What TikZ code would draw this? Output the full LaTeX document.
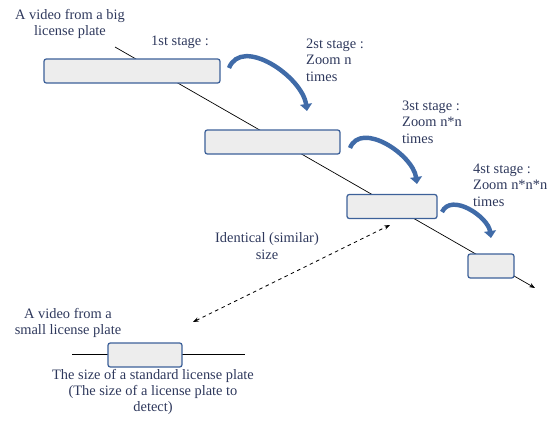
\documentclass[tikz,border=0pt]{standalone}
\usepackage{fontspec}
\setmainfont{Liberation Serif}
\usetikzlibrary{arrows.meta,calc}
\definecolor{PlateClr}{rgb}{0.24,0.38,0.6}
\definecolor{TxtClr}{rgb}{0.18,0.22,0.36}
\definecolor{ZoomClr}{rgb}{0.25,0.42,0.66}

\begin{document}
\begin{tikzpicture}[x=0.03cm,y=-0.03cm,
  plate/.style={draw=PlateClr,line width=1.1pt,fill=black!7,rounded corners=2pt,
    minimum height=0.72cm,inner sep=0pt},
  lbl/.style={text=TxtClr,font=\fontsize{12.3}{13.8}\selectfont,inner sep=0pt},
  zoomarrow/.style={draw=ZoomClr,line width=3.8pt,
    -{Triangle[width=10pt,length=6pt]}}]
\useasboundingbox (0,0) rectangle (550,421);

% main line of the stages
\coordinate (lineStart) at (115,47);
\coordinate (lineEnd) at (535,288);
\draw[line width=0.6pt,-{Stealth[length=5pt]}] (lineStart) -- (lineEnd);

\node[plate,minimum width=5.28cm] (P1) at (132,71) {};
\node[plate,minimum width=4.05cm] (P2) at (272.5,142) {};
\node[plate,minimum width=2.7cm] (P3) at (392,206.5) {};
\node[plate,minimum width=1.38cm] (P4) at (491,266) {};

% zoom arrows
\coordinate (A1) at (229,68);  \coordinate (B1) at (307,111);
\coordinate (A2) at (350,148); \coordinate (B2) at (417,184);
\coordinate (A3) at (442,212); \coordinate (B3) at (491,238);
\draw[zoomarrow] (A1) to[out=68,in=98] (B1);
\draw[zoomarrow] (A2) to[out=68,in=98] (B2);
\draw[zoomarrow] (A3) to[out=65,in=98] (B3);

\node[lbl,align=center] (big) at (70,24) {A video from a big\\license plate};
\node[lbl,anchor=west] (S1) at (151,42) {1st stage :};
\node[lbl,align=left,anchor=north west] (S2) at (306,39) {2st stage :\\Zoom n\\times};
\node[lbl,align=left,anchor=north west] (S3) at (402,101) {3st stage :\\Zoom n*n\\times};
\node[lbl,align=left,anchor=north west] (S4) at (473,164) {4st stage :\\Zoom n*n*n\\times};

% small plate
\coordinate (hStart) at (72,354);
\coordinate (hEnd) at (245,354);
\draw[line width=0.6pt] (hStart) -- (hEnd);
\node[plate,minimum width=2.22cm] (P0) at (145,355) {};

\node[lbl,align=center] (small) at (68,323) {A video from a\\small license plate};
\node[lbl,align=center] (std) at (153,392) {The size of a standard license plate\\(The size of a license plate to\\detect)};
\node[lbl,align=center] (same) at (267,246) {Identical (similar)\\size};

\coordinate (dA) at (193,322);
\coordinate (dB) at (390,225);
\draw[line width=0.7pt,dashed,{Stealth[length=5pt]}-{Stealth[length=5pt]}] (dA) -- (dB);

\end{tikzpicture}
\end{document}
